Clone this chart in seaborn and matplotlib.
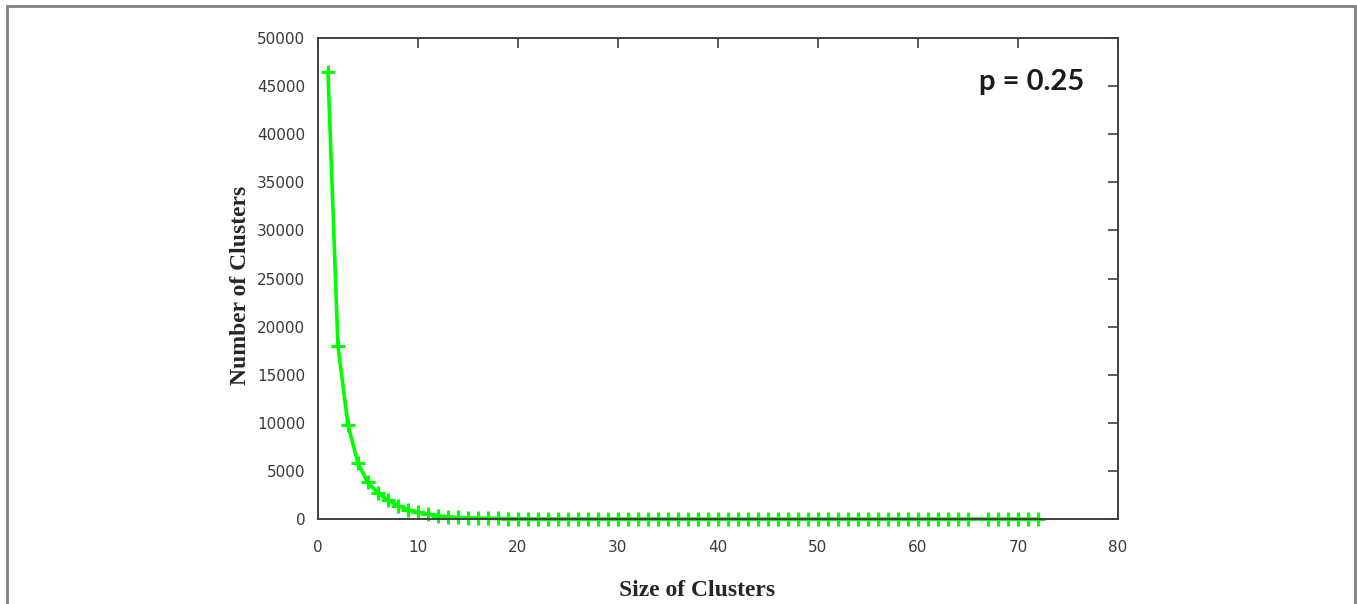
import pandas as pd
import seaborn as sns
import matplotlib.pyplot as plt
from matplotlib.patches import Rectangle

# cluster sizes (size 66 is missing in the source data)
sizes = list(range(1, 66)) + list(range(67, 73))
counts = [46500, 18000, 9800, 5800, 3800, 2700, 2000, 1400, 950, 700,
          500, 330, 230, 170, 120, 90, 70, 55, 45, 35,
          28, 23, 19, 16, 13, 11, 9, 8, 7, 6,
          5, 5, 4, 4, 3, 3, 3, 2, 2, 2,
          2, 2, 2, 1, 1, 1, 1, 1, 1, 1,
          1, 1, 1, 1, 1, 1, 1, 1, 1, 1,
          1, 1, 1, 1, 1,
          1, 1, 1, 1, 1, 1]
x_ticks = [0, 10, 20, 30, 40, 50, 60, 70, 80]
y_ticks = [0, 5000, 10000, 15000, 20000, 25000, 30000, 35000, 40000, 45000, 50000]
label_text = "p = 0.25"

df = pd.DataFrame({"size": sizes, "count": counts})

sns.set_style("white")
plt.rcParams['font.family'] = ['DejaVu Sans']

fig = plt.figure(figsize=(13.57, 6.04), dpi=100)
ax = fig.add_axes([0.2343, 0.1407, 0.5896, 0.7964])

sns.lineplot(data=df, x="size", y="count", color="#00ff00", lw=2.6,
             marker="+", markersize=9.5, markeredgewidth=2.2,
             markeredgecolor="#00ff00", clip_on=False, ax=ax)

ax.set_xlim(0, 80)
ax.set_ylim(0, 50000)
ax.set_xticks(x_ticks)
ax.set_yticks(y_ticks)
ax.tick_params(direction="in", length=7, width=1.2, color="#404040",
               top=True, right=True, labelsize=11, labelcolor="#3a3a3a")
ax.tick_params(axis="x", pad=15)
ax.tick_params(axis="y", pad=9)
for sp in ax.spines.values():
    sp.set_color("#404040")
    sp.set_linewidth(1.4)
    sp.set_visible(True)
    sp.set_zorder(3)

ax.set_xlabel("")
ax.set_ylabel("")
fig.text(0.514, 0.023, "Size of Clusters", ha="center", va="center",
         fontsize=17, fontweight="bold", family="Liberation Serif")
fig.text(0.177, 0.527, "Number of Clusters", ha="center", va="center",
         rotation=90, fontsize=17, fontweight="bold", family="Liberation Serif")

ax.text(71.4, 45400, label_text, ha="center", va="center", fontsize=21,
        fontweight="bold", family="Lato", color="#1a1a1a")

# outer frame around the figure (bottom edge falls outside the image)
fig.patches.append(Rectangle((0.0055, -0.05), 0.993, 1.04, transform=fig.transFigure,
                             fill=False, edgecolor="#808080", lw=2))

fig.savefig("out.png", dpi=100)
